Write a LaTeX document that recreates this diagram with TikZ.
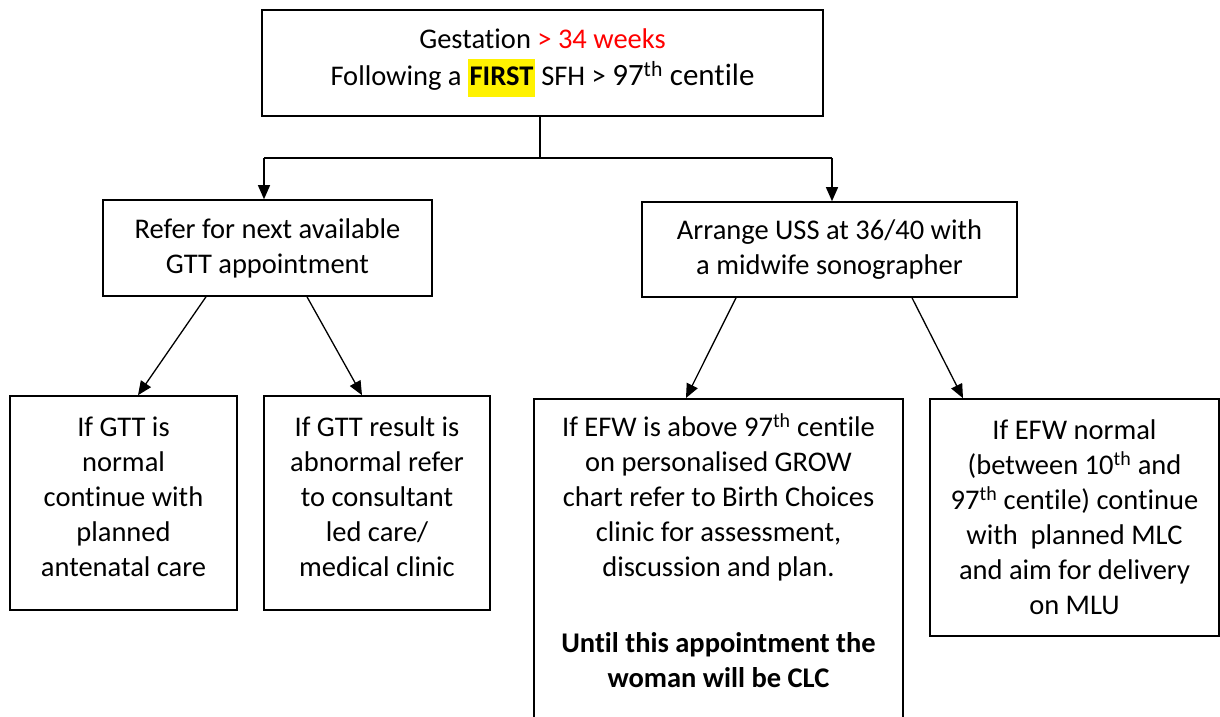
\documentclass[tikz,border=0pt]{standalone}
\usepackage{fontspec}
\setmainfont{Carlito}[Ligatures=NoCommon]
\usetikzlibrary{arrows.meta,calc}
\begin{document}
\begin{tikzpicture}[x=1pt,y=-1pt,
  box/.style={draw, line width=1.6pt, inner sep=0pt, align=center, font=\fontsize{28.5}{35}\selectfont},
  arr/.style={line width=1.3pt, -{Triangle[length=14pt,width=12pt]}},
  conn/.style={line width=1.6pt}]
\useasboundingbox (0,0) rectangle (1220,717);
\clip (0,0) rectangle (1220,717);
\setlength{\fboxsep}{1.5pt}
% boxes
\node[box, minimum width=561pt, minimum height=106pt] (top) at (542.5,63)
  {Gestation \textcolor{red}{> 34 weeks}\\[2pt]Following a \colorbox{yellow}{\strut\textbf{FIRST}} SFH > {\fontsize{31}{37}\selectfont 97\textsuperscript{th} centile}};
\node[box, minimum width=329pt, minimum height=96pt] (gtt) at (267.5,248)
  {Refer for next available\\GTT appointment};
\node[box, minimum width=375pt, minimum height=95pt] (uss) at (829.5,249.5)
  {Arrange USS at 36/40 with\\a midwife sonographer};
\node[box, minimum width=227pt, minimum height=214pt] (b1) at (123.5,503)
  {If GTT is\\normal\\continue with\\planned\\antenatal care\rule[-12pt]{0pt}{12pt}};
\node[box, minimum width=226pt, minimum height=214pt] (b2) at (377,503)
  {If GTT result is\\abnormal refer\\to consultant\\led care/\\medical clinic\rule[-12pt]{0pt}{12pt}};
\node[box, minimum width=369pt, inner ysep=13pt, anchor=north] (b3) at (718.5,398)
  {\begin{tabular}{@{}c@{}}If EFW is above 97\textsuperscript{th} centile\\on personalised GROW\\chart refer to Birth Choices\\clinic for assessment,\\discussion and plan.\\[41pt]\textbf{Until this appointment the}\\\textbf{woman will be CLC}\\[40pt]\end{tabular}};
\node[box, minimum width=289pt, minimum height=237pt] (b4) at (1074.5,517.5)
  {If EFW normal\\(between 10\textsuperscript{th} and\\97\textsuperscript{th} centile) continue\\with\ \ planned MLC\\and aim for delivery\\on MLU};
% connectors
\coordinate (j) at (540,158);
\coordinate (jl) at (264,158);
\coordinate (jr) at (832,158);
\draw[conn] (top.south -| j) -- (j);
\draw[conn] (jl) -- (jr);
\draw[arr] (jl) -- (jl |- gtt.north);
\draw[arr] (jr) -- (jr |- uss.north);
\draw[arr] ([xshift=-61.5pt]gtt.south) -- ([xshift=14.5pt]b1.north);
\draw[arr] ([xshift=39.5pt]gtt.south) -- ([xshift=-15pt]b2.north);
\draw[arr] ([xshift=-93.5pt]uss.south) -- ([xshift=-32.5pt]b3.north);
\draw[arr] ([xshift=82.5pt]uss.south) -- ([xshift=-111.5pt]b4.north);
\end{tikzpicture}
\end{document}
